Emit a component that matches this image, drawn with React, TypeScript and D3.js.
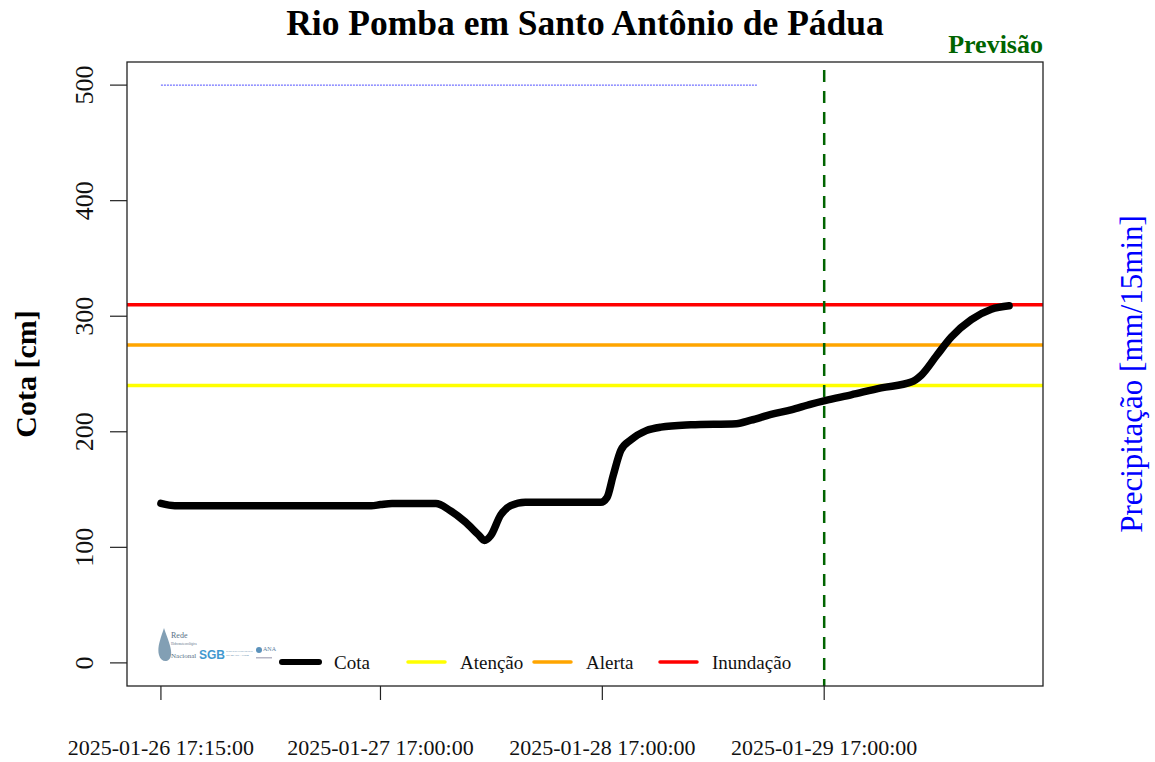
import React from 'react';
import * as d3 from 'd3';

// observed + forecast river stage (cm)
const cotaTimes = [
  '2025-01-26 17:15', '2025-01-26 18:45', '2025-01-27 16:00', '2025-01-27 17:00',
  '2025-01-27 18:15', '2025-01-27 23:00', '2025-01-28 00:30', '2025-01-28 02:10',
  '2025-01-28 03:35', '2025-01-28 04:15', '2025-01-28 04:55', '2025-01-28 06:00',
  '2025-01-28 07:05', '2025-01-28 08:40', '2025-01-28 16:50', '2025-01-28 17:30',
  '2025-01-28 18:10', '2025-01-28 19:00', '2025-01-28 20:05', '2025-01-28 21:45',
  '2025-01-28 23:20', '2025-01-29 02:35', '2025-01-29 07:30', '2025-01-29 09:05',
  '2025-01-29 11:15', '2025-01-29 13:25', '2025-01-29 15:35', '2025-01-29 17:05',
  '2025-01-29 19:55', '2025-01-29 23:10', '2025-01-30 02:25', '2025-01-30 03:30',
  '2025-01-30 05:10', '2025-01-30 06:45', '2025-01-30 08:55', '2025-01-30 11:05',
  '2025-01-30 13:00',
];
const cotaValues = [
  138, 136, 136, 137,
  138, 138, 132, 122,
  111, 106, 110, 128,
  136, 139, 139, 143,
  162, 184, 193, 201,
  204, 206, 207, 210,
  215, 219, 224, 227,
  232, 238, 243, 249,
  266, 282, 297, 306,
  309,
];

// rainfall (mm/15min), all zero in this window
const precipTimes = ['2025-01-26 17:15', '2025-01-29 09:45'];
const precipValues = [0, 0];

const thresholdNames = ['Atenção', 'Alerta', 'Inundação'];
const thresholdValues = [240, 275, 310];
const thresholdColors = ['#ffff00', '#ffa500', '#ff0000'];

const tickTimes = ['2025-01-26 17:15', '2025-01-27 17:00', '2025-01-28 17:00', '2025-01-29 17:00'];
const tickLabels = ['2025-01-26 17:15:00', '2025-01-27 17:00:00', '2025-01-28 17:00:00', '2025-01-29 17:00:00'];
const yTicks = [0, 100, 200, 300, 400, 500];
const forecastStart = '2025-01-29 17:00';

const W = 1155;
const H = 762;
const left = 127;
const right = 1043;
const top = 62;
const bottom = 686;
const serif = '"Liberation Serif", "Times New Roman", serif';

const parse = d3.timeParse('%Y-%m-%d %H:%M');

const App = () => {
  const times = cotaTimes.map((t) => parse(t) as Date);
  const pad = ((right - left) * 0.04) / 1.08;
  const x = d3.scaleTime()
    .domain(d3.extent(times) as [Date, Date])
    .range([left + pad, right - pad]);
  const y = d3.scaleLinear().domain([-20, 520]).range([bottom, top]);
  // secondary axis hangs from the top
  const yP = d3.scaleLinear().domain([0, 50]).range([y(500), y(0)]);

  const cotaLine = d3.line<number>()
    .x((d, i) => x(times[i]))
    .y((d) => y(d))
    .curve(d3.curveMonotoneX);

  const precipLine = d3.line<number>()
    .x((d, i) => x(parse(precipTimes[i]) as Date))
    .y((d) => yP(d));

  const fx = x(parse(forecastStart) as Date);

  // legend entries
  const legend = [
    { name: 'Cota', color: '#000', w: 6, x0: 282 },
    ...thresholdNames.map((n, i) => ({ name: n, color: thresholdColors[i], w: 3.5, x0: 408 + i * 126 })),
  ];

  return (
    <svg width={W} height={H} style={{ position: 'absolute', left: 0, top: 0, background: '#fff' }} fontFamily={serif}>
      {/* threshold lines */}
      {thresholdValues.map((v, i) => (
        <line key={v} x1={left} x2={right} y1={y(v)} y2={y(v)} stroke={thresholdColors[i]} strokeWidth={3.5} />
      ))}

      <path d={precipLine(precipValues) || ''} fill="none" stroke="#0000ff" strokeWidth={1} strokeDasharray="2,1" opacity={0.7} />

      <path d={cotaLine(cotaValues) || ''} fill="none" stroke="#000" strokeWidth={7.5} strokeLinejoin="round" strokeLinecap="round" />

      <line x1={fx} x2={fx} y1={top + 8} y2={bottom} stroke="#006400" strokeWidth={2.5} strokeDasharray="12,9" />

      {/* box */}
      <rect x={left} y={top} width={right - left} height={bottom - top} fill="none" stroke="#222" strokeWidth={1.3} />

      {/* y axis */}
      {yTicks.map((t) => (
        <g key={t}>
          <line x1={left - 17} x2={left} y1={y(t)} y2={y(t)} stroke="#222" strokeWidth={1.2} />
          <text transform={`translate(93,${y(t)}) rotate(-90)`} textAnchor="middle" fontSize={26} fill="#111">{t}</text>
        </g>
      ))}

      {/* x axis */}
      {tickTimes.map((t, i) => {
        const px = x(parse(t) as Date);
        return (
          <g key={t}>
            <line x1={px} x2={px} y1={bottom} y2={bottom + 14} stroke="#222" strokeWidth={1.2} />
            <text x={px} y={755} textAnchor="middle" fontSize={22} fill="#111">{tickLabels[i]}</text>
          </g>
        );
      })}

      <text x={(left + right) / 2} y={35} textAnchor="middle" fontSize={35.5} fontWeight="bold" fill="#000">
        Rio Pomba em Santo Antônio de Pádua
      </text>
      <text x={right} y={53} textAnchor="end" fontSize={26} fontWeight="bold" fill="#006400">Previsão</text>

      <text transform={`translate(36,${(top + bottom) / 2}) rotate(-90)`} textAnchor="middle" fontSize={30} fontWeight="bold" fill="#000">
        Cota [cm]
      </text>
      <text transform={`translate(1142,${(top + bottom) / 2}) rotate(-90)`} textAnchor="middle" fontSize={31} fill="#0000ff">
        Precipitação [mm/15min]
      </text>

      {/* legend */}
      {legend.map((l) => (
        <g key={l.name}>
          <line x1={l.x0} x2={l.x0 + 37} y1={662} y2={662} stroke={l.color} strokeWidth={l.w} strokeLinecap="round" />
          <text x={l.x0 + 52} y={669} fontSize={19} fill="#111">{l.name}</text>
        </g>
      ))}

      {/* partner logos (simplified) */}
      <g opacity={0.85}>
        <path d="M164,628 C160,640 157,648 159,655 C161,663 170,663 171,655 C172,648 168,640 164,628 Z" fill="#6d8fa8" />
        <text x={171} y={638} fontSize={8} fill="#3a5870">Rede</text>
        <text x={171} y={645} fontSize={3.2} fill="#3a5870">Hidrometeorológica</text>
        <text x={171} y={658} fontSize={7} fill="#3a5870">Nacional</text>
        <text x={199} y={659} fontSize={12} fontWeight="bold" fontFamily="Arial, sans-serif" fill="#1e88c8">SGB</text>
        <text x={226} y={652} fontSize={2.6} fill="#1e5a8a">SERVIÇO GEOLÓGICO</text>
        <text x={226} y={656} fontSize={2.6} fill="#1e5a8a">DO BRASIL - CPRM</text>
        <circle cx={259} cy={650} r={3} fill="#3f7fb0" />
        <text x={263} y={651} fontSize={6} fill="#3f6a90">ANA</text>
        <rect x={256} y={657} width={16} height={1.5} fill="#aab" />
      </g>
    </svg>
  );
};

export default App;
